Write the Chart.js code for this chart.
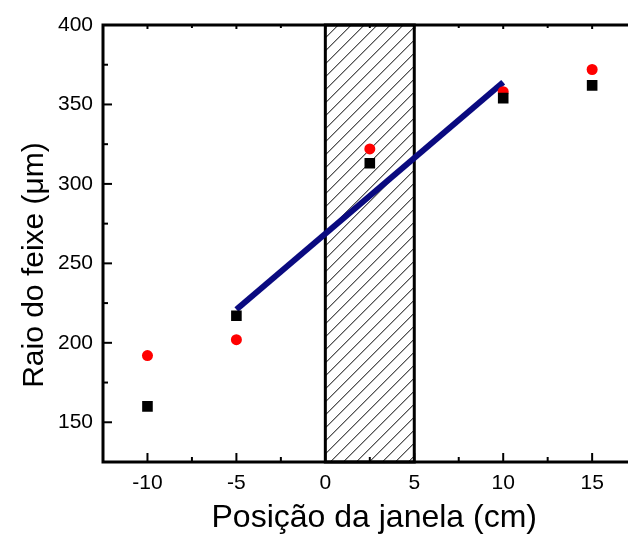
<!DOCTYPE html>
<html>
<head>
<meta charset="utf-8">
<script src="https://cdn.jsdelivr.net/npm/chart.js@4.4.0/dist/chart.umd.min.js"></script>
<style>
  html, body { margin: 0; padding: 0; background: #fff; overflow: hidden; }
  #wrap { width: 628px; height: 537px; overflow: hidden; }
</style>
</head>
<body>
<div id="wrap"><canvas id="chart" width="653" height="537"></canvas></div>
<script>
// Beam radius vs window position
const blackX = [-10, -5, 2.5, 10, 15];
const blackY = [160, 217, 313, 354, 362];
const redX = [-10, -5, 2.5, 10, 15];
const redY = [192, 202, 322, 358, 372];
const fitX = [-5, 10];
const fitY = [221, 364];
const windowRange = [0, 5];   // hatched window region (cm)
const xTicks = [-10, -5, 0, 5, 10, 15];
const xMinor = [-12.5, -7.5, -2.5, 2.5, 7.5, 12.5, 17.5];
const yTicks = [150, 200, 250, 300, 350, 400];
const yMinor = [125, 175, 225, 275, 325, 375];
const yTitle = 'Raio do feixe (μm)';

const toPts = (xs, ys) => xs.map((x, i) => ({ x: x, y: ys[i] }));

// Hatched window region behind the data
const windowPlugin = {
  id: 'windowBox',
  beforeDatasetsDraw(chart) {
    const { ctx, chartArea, scales } = chart;
    const x0 = scales.x.getPixelForValue(windowRange[0]);
    const x1 = scales.x.getPixelForValue(windowRange[1]);
    const top = chartArea.top, bottom = chartArea.bottom;
    ctx.save();
    ctx.beginPath();
    ctx.rect(x0, top, x1 - x0, bottom - top);
    ctx.clip();
    ctx.strokeStyle = '#000';
    ctx.lineWidth = 1;
    const h = bottom - top;
    for (let s = x0 - h; s < x1 + 10; s += 13) {
      ctx.beginPath();
      ctx.moveTo(s, bottom);
      ctx.lineTo(s + h, top);
      ctx.stroke();
    }
    ctx.restore();
    ctx.save();
    ctx.strokeStyle = '#000';
    ctx.lineWidth = 3;
    ctx.strokeRect(x0, top, x1 - x0, bottom - top);
    ctx.restore();
  }
};

// Frame with inward ticks (Origin style) and the y title
const framePlugin = {
  id: 'frame',
  afterDraw(chart) {
    const { ctx, chartArea, scales } = chart;
    const { left, right, top, bottom } = chartArea;
    ctx.save();
    ctx.strokeStyle = '#000';
    ctx.lineWidth = 2;
    xTicks.forEach(v => {
      const px = scales.x.getPixelForValue(v);
      ctx.beginPath(); ctx.moveTo(px, bottom); ctx.lineTo(px, bottom - 9); ctx.stroke();
      ctx.beginPath(); ctx.moveTo(px, top); ctx.lineTo(px, top + 4); ctx.stroke();
    });
    xMinor.forEach(v => {
      const px = scales.x.getPixelForValue(v);
      ctx.beginPath(); ctx.moveTo(px, bottom); ctx.lineTo(px, bottom - 5); ctx.stroke();
      ctx.beginPath(); ctx.moveTo(px, top); ctx.lineTo(px, top + 3); ctx.stroke();
    });
    yTicks.forEach(v => {
      const py = scales.y.getPixelForValue(v);
      ctx.beginPath(); ctx.moveTo(left, py); ctx.lineTo(left + 9, py); ctx.stroke();
    });
    yMinor.forEach(v => {
      const py = scales.y.getPixelForValue(v);
      ctx.beginPath(); ctx.moveTo(left, py); ctx.lineTo(left + 5, py); ctx.stroke();
    });
    ctx.lineWidth = 3;
    ctx.beginPath();
    ctx.moveTo(right + 10, top);
    ctx.lineTo(left, top);
    ctx.lineTo(left, bottom);
    ctx.lineTo(right + 10, bottom);
    ctx.stroke();

    // y axis title sits a bit lower than the plot centre in the original
    ctx.fillStyle = '#000';
    ctx.font = '30px "Liberation Sans", Arial, sans-serif';
    ctx.textAlign = 'center';
    ctx.textBaseline = 'alphabetic';
    ctx.translate(43, 265);
    ctx.rotate(-Math.PI / 2);
    ctx.fillText(yTitle, 0, 0);
    ctx.restore();
  }
};

Chart.defaults.font.family = '"Liberation Sans", Arial, sans-serif';
Chart.defaults.color = '#000';

new Chart(document.getElementById('chart'), {
  type: 'scatter',
  data: {
    datasets: [
      {
        type: 'line',
        data: toPts(fitX, fitY),
        borderColor: '#0a0a80',
        borderWidth: 6,
        pointRadius: 0,
        fill: false,
        order: 3
      },
      {
        data: toPts(redX, redY),
        pointStyle: 'circle',
        pointRadius: 5.5,
        backgroundColor: '#ff0000',
        borderColor: '#ff0000',
        borderWidth: 0,
        order: 2
      },
      {
        data: toPts(blackX, blackY),
        pointStyle: 'rect',
        pointRadius: 7.5,
        backgroundColor: '#000',
        borderColor: '#000',
        borderWidth: 0,
        order: 1
      }
    ]
  },
  options: {
    responsive: false,
    animation: false,
    layout: { padding: { top: 25, right: 0, left: 0, bottom: 0 } },
    plugins: { legend: { display: false }, tooltip: { enabled: false } },
    scales: {
      x: {
        type: 'linear',
        min: -12.5,
        max: 18,
        afterBuildTicks: s => { s.ticks = xTicks.map(v => ({ value: v })); },
        afterFit: s => { s.height = 75; s.paddingLeft = 0; s.paddingRight = 0; },
        grid: { display: false, drawTicks: false },
        border: { display: false },
        ticks: { font: { size: 21 }, padding: 9, maxRotation: 0 },
        title: {
          display: true,
          text: 'Posição da janela (cm)',
          font: { size: 32 },
          padding: { top: 0, bottom: 0 }
        }
      },
      y: {
        min: 125,
        max: 400,
        afterBuildTicks: s => { s.ticks = yTicks.map(v => ({ value: v })); },
        afterFit: s => { s.width = 103; s.paddingTop = 0; s.paddingBottom = 0; },
        grid: { display: false, drawTicks: false },
        border: { display: false },
        ticks: { font: { size: 21 }, padding: 10 }
      }
    }
  },
  plugins: [windowPlugin, framePlugin]
});
</script>
</body>
</html>
